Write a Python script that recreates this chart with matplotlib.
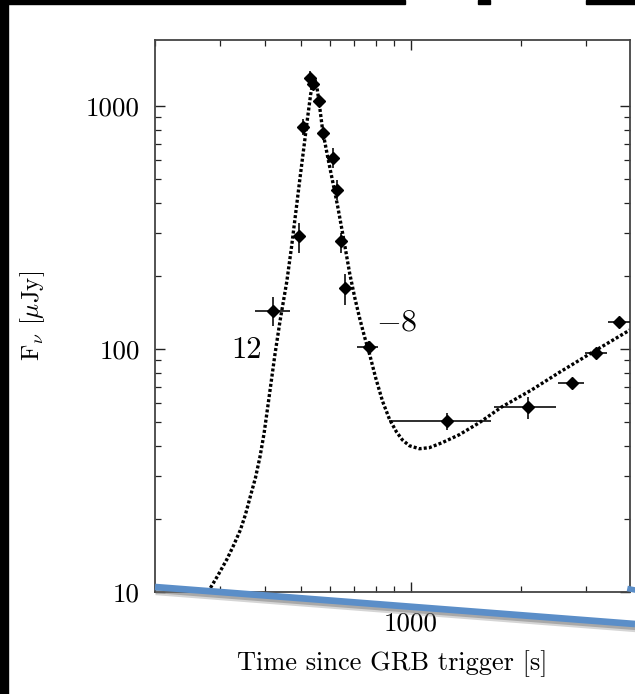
import matplotlib
matplotlib.use("Agg")
import matplotlib.pyplot as plt
from matplotlib.lines import Line2D
from matplotlib.patches import Rectangle
from matplotlib import patheffects as pe
from matplotlib.ticker import NullFormatter, LogLocator

plt.rcParams['font.family'] = ['cmr10', 'DejaVu Serif']
plt.rcParams['mathtext.fontset'] = 'cm'
plt.rcParams['axes.unicode_minus'] = False

# ---- data ----
t_obs = [421, 495, 508, 529, 540, 560, 574, 612, 629, 643, 662, 767, 1253, 2087, 2749, 3194, 3698]
f_obs = [144, 291, 824, 1304, 1235, 1051, 774, 611, 452, 280, 178, 102.5, 50.4, 57.7, 72.5, 96.3, 129]
t_minus = [46, 0, 0, 0, 0, 0, 0, 0, 0, 0, 0, 53, 384, 403, 231, 205, 239]
t_plus = [46, 0, 0, 0, 0, 0, 0, 0, 0, 0, 0, 43, 397, 401, 221, 227, 300]
f_minus = [19, 43, 65, 90, 60, 50, 50, 54, 41, 32, 26, 6, 3.9, 6.2, 2.5, 3, 3]
f_plus = [20, 41, 65, 90, 60, 50, 50, 62, 44, 20, 26, 6, 4.3, 6.1, 2.5, 3, 3]

model_t = [262, 279, 296, 314, 328, 342, 353, 364, 376, 387, 397, 407, 425, 439,
           458, 472, 485, 497, 510, 522, 532, 540, 546, 552, 560, 574, 593, 611,
           631, 651, 680, 702, 724, 747, 771, 800, 836, 873, 912, 947, 990, 1054,
           1122, 1216, 1353, 1533, 1771, 2136, 2529, 3110, 3960]
model_f = [8.9, 10.0, 11.6, 13.6, 15.6, 18.0, 20.8, 24.7, 29.5, 36.1, 45.0, 59.0, 95, 131,
           190, 265, 370, 500, 680, 900, 1120, 1260, 1290, 1230, 1060, 790, 612, 490,
           385, 298, 205, 163, 134, 112, 95, 76.5, 61, 51.5, 45.7, 42.3, 40.0, 38.9,
           39.3, 41.2, 44.4, 49.7, 57.9, 68.0, 79.9, 96.6, 120]

y_ticks = [10, 100, 1000]
y_ticklabels = ['10', '100', '1000']
x_ticks = [1000]
x_ticklabels = ['1000']

W, H = 635, 694
fig = plt.figure(figsize=(W / 100, H / 100), dpi=100)
fig.patch.set_facecolor('white')

ax = fig.add_axes([155 / W, 1 - 592 / H, (630 - 155) / W, (592 - 40) / H])
ax.set_xscale('log')
ax.set_yscale('log')
ax.set_xlim(200, 3960)
ax.set_ylim(10, 1875)

ax.plot(model_t, model_f, color='black', lw=2.4, linestyle=(0, (0.9, 0.65)),
        dash_capstyle='butt', zorder=2)

ax.errorbar(t_obs, f_obs, xerr=[t_minus, t_plus], yerr=[f_minus, f_plus],
            fmt='D', color='black', ms=6.3, elinewidth=1.15, capsize=0, zorder=3)

ax.text(356, 99.3, '12', fontsize=22, ha='center', va='center')
ax.text(916, 128, '$-8$', fontsize=23, ha='center', va='center')

ax.set_yticks(y_ticks)
ax.set_yticklabels(y_ticklabels)
ax.set_xticks(x_ticks)
ax.set_xticklabels(x_ticklabels)
ax.xaxis.set_minor_locator(LogLocator(base=10, subs=range(2, 10), numticks=20))
ax.yaxis.set_minor_locator(LogLocator(base=10, subs=range(2, 10), numticks=20))
ax.xaxis.set_minor_formatter(NullFormatter())
ax.yaxis.set_minor_formatter(NullFormatter())

ax.tick_params(which='both', direction='in', top=True, right=True, colors='#222222',
               labelcolor='black')
ax.tick_params(which='major', length=7.5, width=1.0, labelsize=19.5)
ax.tick_params(axis='y', which='major', pad=11)
ax.tick_params(axis='x', which='major', pad=14)
ax.tick_params(which='minor', length=4, width=0.9)
for s in ax.spines.values():
    s.set_color('#444444')
    s.set_linewidth(1.3)

ax.set_xlabel('Time since GRB trigger [s]', fontsize=19, labelpad=11)
ax.set_ylabel(r'$\mathrm{F_{\nu}}$ $[\mathrm{\mu Jy}]$', fontsize=18, labelpad=28)

# overlay blue line with soft shadow
blue = Line2D([155 / W, 1.0], [1 - 587 / H, 1 - 624 / H], transform=fig.transFigure,
              color='#5b8ec8', lw=4.8, solid_capstyle='butt', zorder=10,
              path_effects=[pe.SimpleLineShadow(offset=(0.5, -3.5), shadow_color='#888888', alpha=0.35),
                            pe.SimpleLineShadow(offset=(0.5, -2.0), shadow_color='#666666', alpha=0.4),
                            pe.Normal()])
fig.add_artist(blue)
fig.add_artist(Line2D([630 / W, 1.0], [1 - 589 / H, 1 - 590 / H], transform=fig.transFigure,
                      color='#5b8ec8', lw=4, zorder=10))

# black frame pieces at top and left
for x0, x1 in [(0, 405), (478, 490), (586, 635)]:
    fig.add_artist(Rectangle((x0 / W, 1 - 3.5 / H), (x1 - x0) / W, 3.5 / H,
                             transform=fig.transFigure, color='black', zorder=20))
fig.add_artist(Rectangle((0, 0), 8 / W, 1, transform=fig.transFigure, color='black', zorder=20))

fig.savefig('out.png', dpi=100, facecolor='white')
